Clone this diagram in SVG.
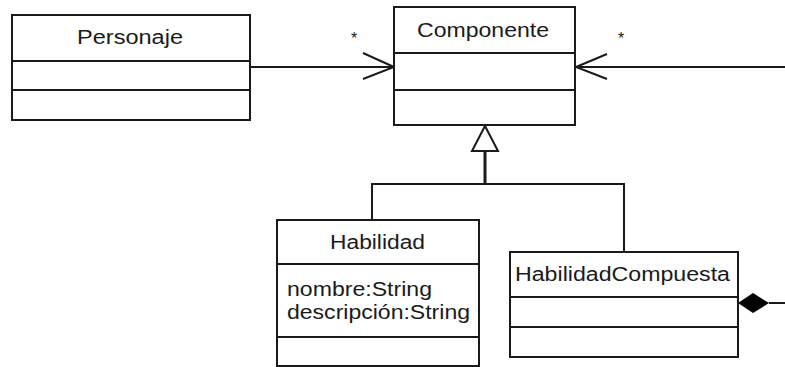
<svg xmlns="http://www.w3.org/2000/svg" width="785" height="367" viewBox="0 0 785 367">
<style>
.box{fill:#fff;stroke:#1a1a1a;stroke-width:2}
.ln{fill:none;stroke:#1a1a1a;stroke-width:2}
.t{font-family:"Liberation Sans",Arial,sans-serif;font-size:20px;fill:#1a1a1a}
.m{font-family:"Liberation Sans",Arial,sans-serif;font-size:16px;fill:#1a1a1a}
</style>
<rect width="785" height="367" fill="#fff"/>
<g id="connectors">
<path class="ln" d="M250,67 H394 M363,53 L394,67 L363,79"/>
<text class="m" x="351" y="44">*</text>
<path class="ln" d="M785,67 H576 M607,54 L576,67 L607,79"/>
<text class="m" x="618" y="44">*</text>
<path class="ln" d="M372,220 V184 H624 V252"/>
<path class="ln" style="stroke-width:3" d="M485,151 V184"/>
<polygon class="box" points="485,126 472,151 498,151"/>
<polygon points="738,303 753,293 769,303 753,313" fill="#000"/>
<path class="ln" d="M769,303 H785"/>
</g>
<g id="Personaje">
<rect class="box" x="12" y="15" width="238" height="105"/>
<path class="ln" d="M12,61 H250 M12,90 H250"/>
<text class="t" x="77" y="44" textLength="106" lengthAdjust="spacingAndGlyphs">Personaje</text>
</g>
<g id="Componente">
<rect class="box" x="394" y="7" width="181" height="118"/>
<path class="ln" d="M394,53 H575 M394,90 H575"/>
<text class="t" x="417" y="37" textLength="132" lengthAdjust="spacingAndGlyphs">Componente</text>
</g>
<g id="Habilidad">
<rect class="box" x="277" y="220" width="202" height="146"/>
<path class="ln" d="M277,264 H479 M277,337 H479"/>
<text class="t" x="330" y="249" textLength="95" lengthAdjust="spacingAndGlyphs">Habilidad</text>
<text class="t" x="287" y="296" textLength="145" lengthAdjust="spacingAndGlyphs">nombre:String</text>
<text class="t" x="287" y="319" textLength="183" lengthAdjust="spacingAndGlyphs">descripción:String</text>
</g>
<g id="HabilidadCompuesta">
<rect class="box" x="510" y="252" width="228" height="105"/>
<path class="ln" d="M510,297 H738 M510,327 H738"/>
<text class="t" x="515" y="281" textLength="215" lengthAdjust="spacingAndGlyphs">HabilidadCompuesta</text>
</g>
</svg>
